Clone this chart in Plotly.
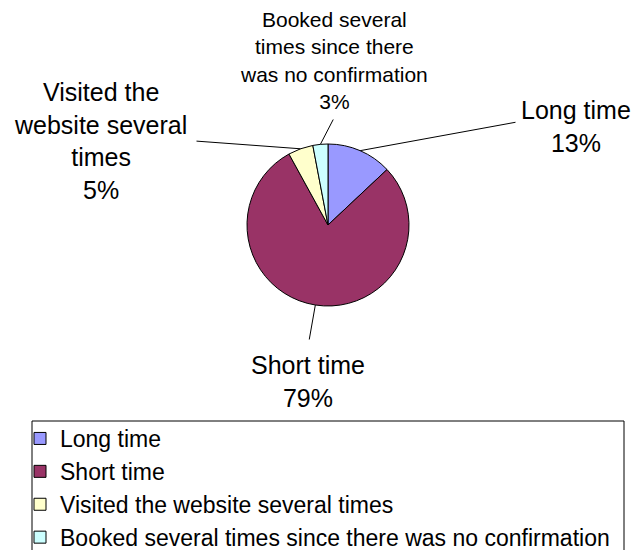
import math

import plotly.graph_objects as go


# Data
categories = [
    "Long time",
    "Short time",
    "Visited the website several times",
    "Booked several times since there was no confirmation",
]
shares = [13, 79, 5, 3]
slice_colors = ["#9999FF", "#993366", "#FFFFCC", "#CCFFFF"]

# Wrapped label text shown next to the pie
wrapped_labels = [
    "Long time",
    "Short time",
    "Visited the<br>website several<br>times",
    "Booked several<br>times since there<br>was no confirmation",
]


W, H = 637, 550

# Pie geometry (pixels)
cx, cy, r = 328, 225, 81

# Label block centres, where each leader line ends, and label font sizes (pixels)
label_pos = [(576, 126), (308, 381), (100, 141), (334, 60)]
leader_end = [(517, 122), (309, 341), (195, 141), (334, 118)]
label_size = [25, 25, 25, 21]


def px_to_paper(x, y):
    return x / W, 1 - y / H


fig = go.Figure(
    go.Pie(
        labels=categories,
        values=shares,
        sort=False,
        direction="clockwise",
        rotation=0,
        textinfo="none",
        hoverinfo="label+percent",
        marker=dict(colors=slice_colors, line=dict(color="black", width=1)),
        domain=dict(
            x=[(cx - r) / W, (cx + r) / W],
            y=[1 - (cy + r) / H, 1 - (cy - r) / H],
        ),
    )
)

# Labels, plus leader lines pointing at the middle of each slice
total = sum(shares)
before = 0
for i, v in enumerate(shares):
    theta = math.radians(360 * (before + v / 2) / total)
    before += v
    tip_x = cx + r * math.sin(theta)
    tip_y = cy - r * math.cos(theta)
    pct = round(100 * v / total)

    ex, ey = leader_end[i]
    tx, ty = px_to_paper(tip_x, tip_y)
    fig.add_annotation(
        x=tx, y=ty, xref="paper", yref="paper",
        ax=ex - tip_x, ay=ey - tip_y,
        text="",
        showarrow=True,
        arrowhead=0,
        arrowwidth=1,
        arrowcolor="black",
        standoff=0,
        startstandoff=0,
    )

    lx, ly = px_to_paper(*label_pos[i])
    fig.add_annotation(
        x=lx, y=ly, xref="paper", yref="paper",
        xanchor="center", yanchor="middle",
        text=f"{wrapped_labels[i]}<br>{pct}%",
        showarrow=False,
        font=dict(size=label_size[i], color="black"),
    )

# Legend frame (runs off the bottom edge as in the original)
fig.add_shape(
    type="rect",
    xref="paper", yref="paper",
    x0=32 / W, x1=624 / W,
    y0=1 - 570 / H, y1=1 - 421 / H,
    line=dict(color="black", width=1),
    fillcolor="rgba(0,0,0,0)",
    layer="below",
)

fig.update_layout(
    width=W,
    height=H,
    margin=dict(l=0, r=0, t=0, b=0, autoexpand=False),
    paper_bgcolor="white",
    plot_bgcolor="white",
    font=dict(family="Arial, Liberation Sans, sans-serif", color="black"),
    showlegend=True,
    legend=dict(
        x=32 / W,
        y=1 - 417 / H,
        xanchor="left",
        yanchor="top",
        borderwidth=0,
        bgcolor="rgba(0,0,0,0)",
        font=dict(size=23, color="black"),
        indentation=-12,
        traceorder="normal",
    ),
)

# drop the page's default body margin so the chart sits at the top-left corner
fig.write_html(
    "out.html",
    config={"displayModeBar": False},
    post_script="document.body.style.margin='0px';",
)
